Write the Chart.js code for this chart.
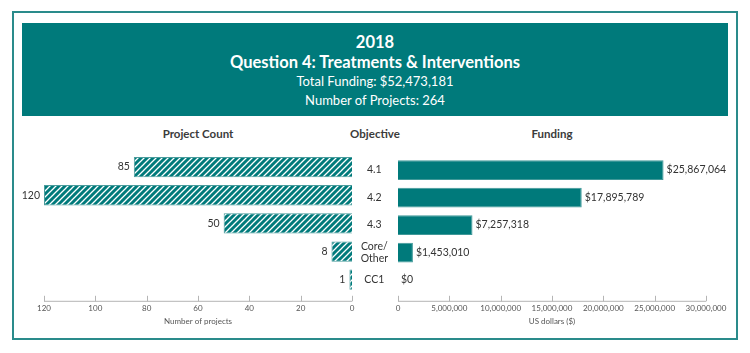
<!DOCTYPE html>
<html lang="en">
<head>
    <meta charset="UTF-8">
    <title>2018 Question 4: Treatments & Interventions</title>
    <script src="https://cdn.jsdelivr.net/npm/chart.js"></script>
    <style>
        body {
            margin: 0;
            background: #fff;
            font-family: 'Lato', 'Noto Sans', sans-serif;
        }
        .page {
            position: relative;
            width: 750px;
            height: 353px;
            overflow: hidden;
        }
        .frame {
            position: absolute;
            left: 12px; top: 11px;
            width: 722px; height: 325px;
            border: 2px solid #2a8b8b;
        }
        .header {
            position: absolute;
            left: 22px; top: 23px;
            width: 706px; height: 93px;
            background: #007a7b;
            color: #fff;
            text-align: center;
        }
        .header .big { font-size: 16.5px; font-weight: 700; line-height: 20px; }
        .header .small { font-size: 13px; font-weight: 400; line-height: 19px; }
        .header .first { margin-top: 9px; }
        .colhead {
            position: absolute;
            top: 127px;
            font-size: 11.5px;
            font-weight: 700;
            color: #3b3b3b;
            transform: translateX(-50%);
            white-space: nowrap;
        }
        canvas { position: absolute; }
    </style>
</head>
<body>
<div class="page">
    <div class="frame"></div>
    <div class="header">
        <div class="big first">2018</div>
        <div class="big">Question 4: Treatments &amp; Interventions</div>
        <div class="small">Total Funding: $52,473,181</div>
        <div class="small">Number of Projects: 264</div>
    </div>
    <div class="colhead" style="left:198px">Project Count</div>
    <div class="colhead" style="left:375px">Objective</div>
    <div class="colhead" style="left:552px">Funding</div>
    <canvas id="countChart" width="360" height="200" style="left:0;top:140px;width:360px;height:200px"></canvas>
    <canvas id="fundChart" width="398" height="200" style="left:352px;top:140px;width:398px;height:200px"></canvas>
</div>

<script>
    // datos
    const objectives = ['4.1', '4.2', '4.3', ['Core/', 'Other'], 'CC1'];
    const projectCounts = [85, 120, 50, 8, 1];
    const funding = [25867064, 17895789, 7257318, 1453010, 0];
    const countTicks = [0, 20, 40, 60, 80, 100, 120];
    const fundTicks = [0, 5000000, 10000000, 15000000, 20000000, 25000000, 30000000];

    const TEAL = '#007a7b';
    const TEXT = '#333333';
    const AXIS = '#b5b5b5';

    // patrón rayado para las barras de proyectos
    function makeHatch() {
        const c = document.createElement('canvas');
        c.width = 6; c.height = 6;
        const g = c.getContext('2d');
        g.fillStyle = TEAL;
        g.fillRect(0, 0, 6, 6);
        g.strokeStyle = '#ffffff';
        g.lineWidth = 1.3;
        g.beginPath();
        g.moveTo(-1, 7); g.lineTo(7, -1);
        g.moveTo(-4, 4); g.lineTo(4, -4);
        g.moveTo(2, 10); g.lineTo(10, 2);
        g.stroke();
        return g.createPattern(c, 'repeat');
    }

    const fmt = n => n.toLocaleString('en-US');

    // etiquetas de valor al final de cada barra
    const valueLabels = {
        id: 'valueLabels',
        afterDatasetsDraw(chart, args, opts) {
            const ctx = chart.ctx;
            const meta = chart.getDatasetMeta(0);
            const data = chart.data.datasets[0].data;
            ctx.save();
            ctx.font = '10.5px Lato, "Noto Sans", sans-serif';
            ctx.fillStyle = TEXT;
            ctx.textBaseline = 'middle';
            meta.data.forEach((bar, i) => {
                if (opts.side === 'left') {
                    ctx.textAlign = 'right';
                    ctx.fillText(String(data[i]), bar.x - 4, bar.y);
                } else {
                    ctx.textAlign = 'left';
                    ctx.fillText('$' + fmt(data[i]), bar.x + 3, bar.y);
                }
            });
            ctx.restore();
        }
    };

    // línea del eje con marcas hacia arriba
    const axisLine = {
        id: 'axisLine',
        afterDraw(chart, args, opts) {
            const ctx = chart.ctx;
            const x = chart.scales.x;
            const y = chart.chartArea.bottom + 7;
            const vals = opts.values;
            ctx.save();
            ctx.strokeStyle = AXIS;
            ctx.lineWidth = 1;
            ctx.beginPath();
            ctx.moveTo(x.getPixelForValue(vals[0]), y + 0.5);
            ctx.lineTo(x.getPixelForValue(vals[vals.length - 1]), y + 0.5);
            vals.forEach(v => {
                const px = Math.round(x.getPixelForValue(v)) + 0.5;
                ctx.moveTo(px, y + 0.5);
                ctx.lineTo(px, y - 5);
            });
            ctx.stroke();
            ctx.restore();
        }
    };

    const tickFont = { family: 'Lato, "Noto Sans", sans-serif', size: 8 };
    const titleFont = { family: 'Lato, "Noto Sans", sans-serif', size: 8 };

    const countChart = new Chart(document.getElementById('countChart'), {
        type: 'bar',
        data: {
            labels: objectives,
            datasets: [{
                data: projectCounts,
                backgroundColor: makeHatch(),
                borderColor: '#4a9c9c',
                borderWidth: 1,
                categoryPercentage: 1,
                barPercentage: 0.72
            }]
        },
        options: {
            indexAxis: 'y',
            responsive: false,
            animation: false,
            layout: { padding: { left: 44, right: 8, top: 13, bottom: 14 } },
            plugins: {
                legend: { display: false },
                tooltip: { enabled: false },
                valueLabels: { side: 'left' },
                axisLine: { values: countTicks }
            },
            scales: {
                x: {
                    reverse: true,
                    min: 0, max: 120,
                    afterBuildTicks: s => { s.ticks = countTicks.map(v => ({ value: v })); },
                    grid: { display: false, drawTicks: false },
                    border: { display: false },
                    ticks: { font: tickFont, color: '#555', padding: 10, maxRotation: 0 },
                    title: { display: true, text: 'Number of projects', font: titleFont, color: '#555', padding: { top: -7, bottom: 0 } }
                },
                y: { display: false }
            }
        },
        plugins: [valueLabels, axisLine]
    });

    const fundChart = new Chart(document.getElementById('fundChart'), {
        type: 'bar',
        data: {
            labels: objectives,
            datasets: [{
                data: funding,
                backgroundColor: TEAL,
                borderColor: '#3f9898',
                borderWidth: 1,
                categoryPercentage: 1,
                barPercentage: 0.72
            }]
        },
        options: {
            indexAxis: 'y',
            responsive: false,
            animation: false,
            layout: { padding: { left: 0, right: 44, top: 13, bottom: 14 } },
            plugins: {
                legend: { display: false },
                tooltip: { enabled: false },
                valueLabels: { side: 'right' },
                axisLine: { values: fundTicks }
            },
            scales: {
                x: {
                    min: 0, max: 30000000,
                    afterBuildTicks: s => { s.ticks = fundTicks.map(v => ({ value: v })); },
                    grid: { display: false, drawTicks: false },
                    border: { display: false },
                    ticks: { font: tickFont, color: '#555', padding: 10, maxRotation: 0, callback: v => fmt(v) },
                    title: { display: true, text: 'US dollars ($)', font: titleFont, color: '#555', padding: { top: -7, bottom: 0 } }
                },
                y: {
                    afterFit: s => { s.width = 46; },
                    grid: { display: false, drawTicks: false },
                    border: { display: false },
                    ticks: {
                        autoSkip: false,
                        crossAlign: 'center',
                        padding: 10,
                        font: { family: 'Lato, "Noto Sans", sans-serif', size: 10.5 },
                        color: TEXT
                    }
                }
            }
        },
        plugins: [valueLabels, axisLine]
    });
</script>
</body>
</html>
